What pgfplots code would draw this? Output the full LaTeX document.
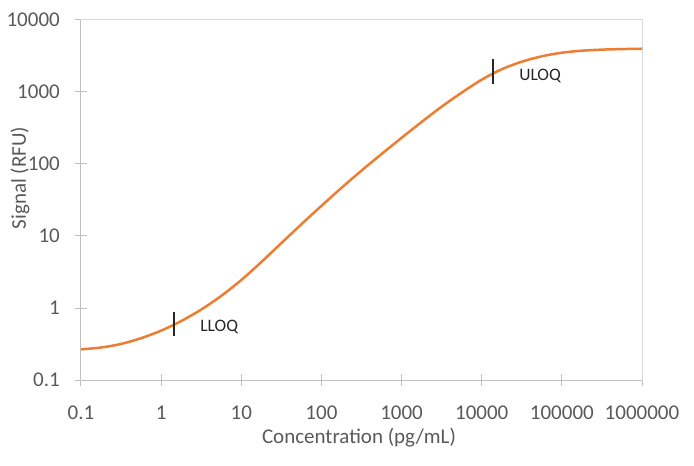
\documentclass[border=0pt]{standalone}
\usepackage{fontspec}
\setmainfont{Carlito}
\usepackage{pgfplots}
\pgfplotsset{compat=1.18}
\usepackage{pgfplotstable}

\definecolor{curve}{HTML}{ED7D31}
\definecolor{txtgray}{HTML}{595959}
\definecolor{axgray}{HTML}{BFBFBF}
\definecolor{boxgray}{HTML}{D9D9D9}
\definecolor{loqblack}{HTML}{262626}

% standard curve (quarter-decade steps)
\pgfplotstableread{
x        y
0.1      0.2667
0.1778   0.2825
0.3162   0.3170
0.5623   0.3811
1        0.4853
1.778    0.6583
3.162    0.9517
5.623    1.474
10       2.446
17.78    4.350
31.62    7.962
56.23    14.57
100      26.21
177.8    46.61
316.2    81.01
562.3    137.5
1000     230.9
1778     383.3
3162     625.2
5623     979.5
10000    1483
17783    2070
31623    2636
56234    3133
100000   3516
177828   3746
316228   3877
562341   3945
1000000  3990
}\curvedata

\begin{document}
\begin{tikzpicture}
\path[use as bounding box] (-81bp,-86bp) rectangle (613bp,380bp);
\begin{axis}[
    at={(0,0)}, anchor=south west,
    scale only axis,
    width=561bp, height=360bp,
    xmode=log, ymode=log,
    xmin=0.1, xmax=1000000,
    ymin=0.1, ymax=10000,
    xtick={0.1,1,10,100,1000,10000,100000,1000000},
    xticklabels={0.1,1,10,100,1000,10000,100000,1000000},
    ytick={0.1,1,10,100,1000,10000},
    yticklabels={0.1,1,10,100,1000,10000},
    xminorticks=false, yminorticks=false,
    tick pos=left,
    tick align=center,
    major tick length=12bp,
    tick style={axgray, line width=1bp},
    axis line style={boxgray, line width=1bp},
    ticklabel style={font=\fontsize{21bp}{25bp}\selectfont, text=txtgray, inner sep=0pt},
    xticklabel style={anchor=base, yshift=-34bp},
    yticklabel style={anchor=east, xshift=-15bp},
    xlabel={Concentration (pg/mL)},
    ylabel={Signal (RFU)},
    label style={font=\fontsize{21bp}{25bp}\selectfont, text=txtgray, inner sep=0pt},
    xlabel style={at={(axis description cs:0.4955,0)}, anchor=base, yshift=-63bp},
    ylabel style={at={(axis description cs:0,0.561)}, anchor=center, yshift=61bp},
    clip=false,
]
\draw[axgray, line width=1bp] (rel axis cs:0,0) -- (rel axis cs:1,0);
\draw[axgray, line width=1bp] (rel axis cs:0,0) -- (rel axis cs:0,1);

\addplot[curve, line width=2.5bp, smooth, tension=0.5] table[x=x, y=y] {\curvedata};

% LLOQ and ULOQ markers
\addplot[loqblack, line width=2.2bp] coordinates {(1.45,0.408) (1.45,0.889)};
\addplot[loqblack, line width=2.2bp] coordinates {(13900,1291) (13900,2845)};

\node[anchor=west, inner sep=0pt, text=loqblack, font=\fontsize{17.5bp}{21bp}\selectfont]
    at (axis cs:3.07,0.541) {LLOQ};
\node[anchor=west, inner sep=0pt, text=loqblack, font=\fontsize{17.5bp}{21bp}\selectfont]
    at (axis cs:29250,1652) {ULOQ};
\end{axis}
\end{tikzpicture}
\end{document}
